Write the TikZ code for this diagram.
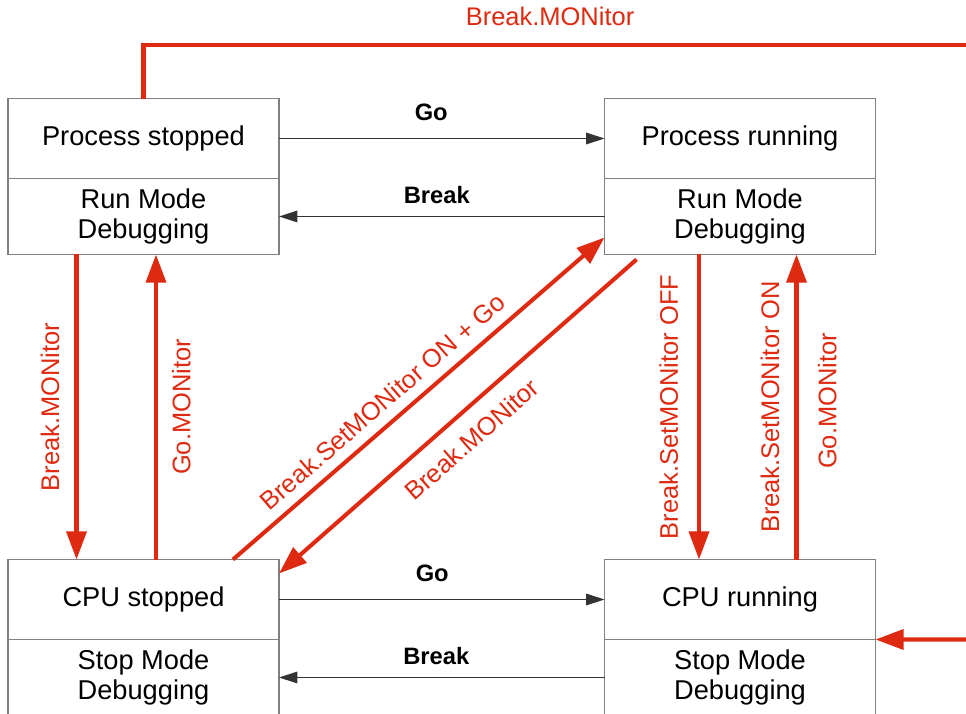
\documentclass[tikz,border=0pt]{standalone}
\usepackage{fontspec}
\setmainfont{Liberation Sans}
\usetikzlibrary{arrows.meta,positioning}
\definecolor{monred}{RGB}{222,42,16}

\begin{document}
\begin{tikzpicture}[x=0.02cm,y=-0.02cm,
    state/.style={draw=black!50, line width=0.85pt, minimum width=5.42cm, minimum height=1.6cm,
      outer sep=0pt, inner sep=0pt, align=center, font=\fontsize{15.5}{17}\selectfont},
    mode/.style={state, minimum height=1.52cm},
    evt/.style={draw=black!80, line width=0.7pt, -{Triangle[length=10.5pt,width=6.6pt]}},
    evtlabel/.style={inner sep=0pt, font=\bfseries\fontsize{13.5}{15}\selectfont},
    monline/.style={draw=monred, line width=2.3pt},
    mon/.style={monline, -{Triangle[length=16pt,width=11.3pt]}},
    monlabel/.style={inner sep=0pt, text=monred, font=\fontsize{14.5}{16}\selectfont}]
    \useasboundingbox (0,0) rectangle (966,713);
    \clip (0,0) rectangle (966,713);

    % the four states, each with its debug mode underneath
    \node[state] (ps) at (143.5,138.5) {Process stopped};
    \node[mode, below=0pt of ps] (psm) {Run Mode\\Debugging};
    \node[state] (pr) at (740,138.5) {Process running};
    \node[mode, below=0pt of pr] (prm) {Run Mode\\Debugging};
    \node[state] (cs) at (143.5,599.5) {CPU stopped};
    \node[mode, below=0pt of cs] (csm) {Stop Mode\\Debugging};
    \node[state] (cr) at (740,599.5) {CPU running};
    \node[mode, below=0pt of cr] (crm) {Stop Mode\\Debugging};

    % plain go / break
    \draw[evt] (ps) -- (pr) node[evtlabel, midway, above=0.34cm, xshift=-0.21cm] {Go};
    \draw[evt] (prm) -- (psm) node[evtlabel, midway, above=0.24cm, xshift=-0.1cm] {Break};
    \draw[evt] (cs) -- (cr) node[evtlabel, midway, above=0.34cm, xshift=-0.19cm] {Go};
    \draw[evt] (crm) -- (csm) node[evtlabel, midway, above=0.24cm, xshift=-0.11cm] {Break};

    % monitor transitions
    \coordinate (topend) at (980,45);
    \coordinate (inR) at (980,639.5);
    \draw[monline] (ps.north) |- (topend) node[monlabel, pos=0.743, above=0.34cm] {Break.MONitor};
    \draw[mon] (inR) -- (cr.south east);

    \draw[mon] ([xshift=-1.34cm]psm.south) -- ([xshift=-1.34cm]cs.north)
      node[monlabel, midway, xshift=-0.3cm, rotate=90, anchor=south] {Break.MONitor};
    \draw[mon] ([xshift=0.25cm]cs.north) -- ([xshift=0.25cm]psm.south)
      node[monlabel, midway, xshift=0.28cm, rotate=90, anchor=north] {Go.MONitor};

    \draw[mon] ([xshift=-0.82cm]prm.south) -- ([xshift=-0.82cm]cr.north)
      node[monlabel, midway, xshift=-0.38cm, rotate=90, anchor=south] {Break.SetMONitor OFF};
    \draw[mon] ([xshift=1.13cm]cr.north) -- ([xshift=1.13cm]prm.south)
      node[monlabel, midway, xshift=-0.3cm, rotate=90, anchor=south] {Break.SetMONitor ON}
      node[monlabel, midway, xshift=0.39cm, yshift=0.12cm, rotate=90, anchor=north] {Go.MONitor};

    \draw[mon] ([xshift=-0.92cm]cs.north east) -- ([yshift=0.34cm]prm.south west)
      node[monlabel, pos=0.44, sloped, above=0.2cm] {Break.SetMONitor ON + Go};
    \draw[mon] ([xshift=0.64cm,yshift=-0.1cm]prm.south west) -- ([yshift=-0.28cm]cs.north east)
      node[monlabel, pos=0.51, sloped, below=0.3cm] {Break.MONitor};
\end{tikzpicture}
\end{document}
